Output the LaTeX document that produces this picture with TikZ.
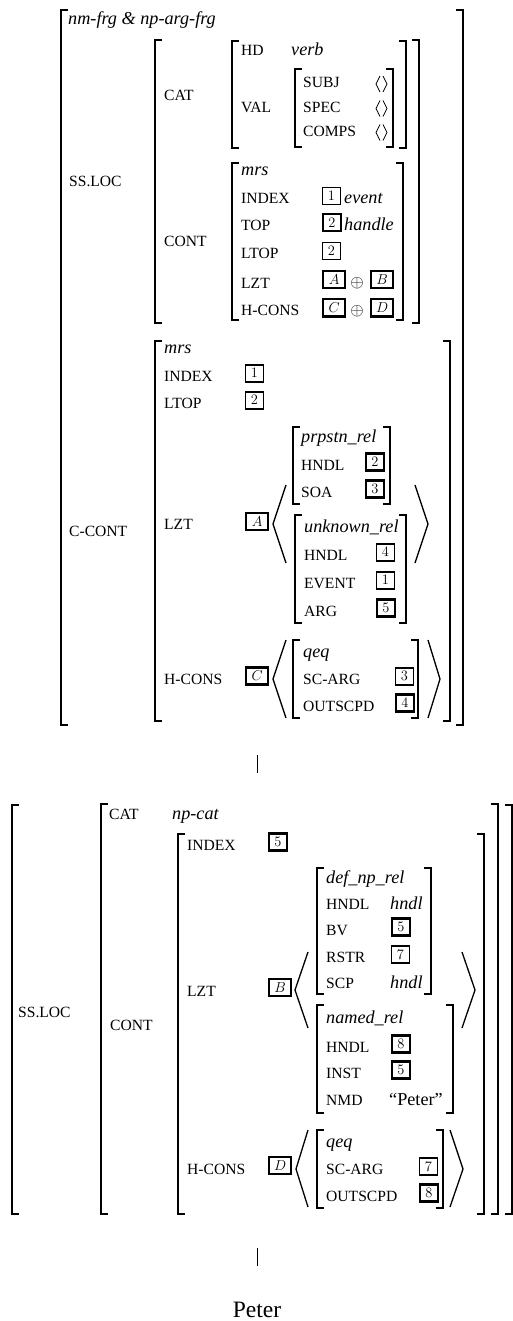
\documentclass[tikz,border=0pt]{standalone}
\usepackage[no-math]{fontspec}
\setmainfont{Liberation Serif}
\newcommand\avmL[3]{\draw[brk] ({#1+7},#2) -- (#1,#2) -- (#1,#3) -- ({#1+7},#3);}
\newcommand\avmR[3]{\draw[brk] ({#1-7},#2) -- (#1,#2) -- (#1,#3) -- ({#1-7},#3);}
\newcommand\emptylist[1]{%
  \draw[sang] (380,{#1-8}) -- (376,#1) -- (380,{#1+8});
  \draw[sang] (383,{#1-8}) -- (387,#1) -- (383,{#1+8});}
\tikzset{
  lab/.style={anchor=base west, inner sep=0, font=\fontsize{15.6}{18}\selectfont},
  val/.style={anchor=base west, inner sep=0, font=\fontsize{18.2}{20}\selectfont\itshape},
  rval/.style={anchor=base west, inner sep=0, font=\fontsize{18.2}{20}\selectfont},
  nbox/.style={draw, line width=1.3, minimum width=17.5, minimum height=17, inner sep=0,
     anchor=south west, font=\fontsize{14.4}{14.4}\selectfont},
  lbox/.style={nbox, minimum width=22, font=\fontsize{14.4}{14.4}\selectfont},
  thk/.style={line width=2.2},
  brk/.style={line width=2},
  ang/.style={line width=1.3},
  sang/.style={line width=0.8},
  tree/.style={line width=0.8},
  opl/.style={inner sep=0, font=\fontsize{17.28}{18}\selectfont}
}
\begin{document}
\begin{tikzpicture}[x=1pt,y=-1pt]
\useasboundingbox (0,0) rectangle (512,1321);
% ================= top AVM =================
\avmL{61}{10}{725} \avmR{463}{10}{725}
\node[val] (tt) at (68,25) {nm-frg \& np-arg-frg};
\node[lab] (ssloc1) at (69,187) {SS.LOC};
\avmL{155}{40}{323} \avmR{419}{40}{323}
% CAT
\node[lab] (cat1) at (164,101) {CAT};
\avmL{232}{41}{148} \avmR{406}{41}{148}
\node[lab] (hd) at (241,56) {HD};
\node[val] (verb) at (291,56) {verb};
\node[lab] (valf) at (241,113) {VAL};
\avmL{295}{69}{147} \avmR{393}{69}{147}
\node[lab] (subj) at (303,88) {SUBJ};
\node[lab] (spec) at (303,113) {SPEC};
\node[lab] (comps) at (303,137) {COMPS};
\emptylist{84} \emptylist{108.5} \emptylist{132.5}
% CONT
\node[lab] (cont1) at (164,247) {CONT};
\avmL{232}{163}{320} \avmR{403}{163}{320}
\node[val] (mrs1) at (241,176) {mrs};
\node[lab] (idx1) at (241,204) {INDEX};
\node[nbox] (b1a) at (322,205) {$1$};
\node[val] (event) at (344,204) {event};
\node[lab] (top1) at (241,231) {TOP};
\node[nbox,thk] (b2a) at (322,232) {$2$};
\node[val] (handle) at (344,231) {handle};
\node[lab] (ltop1) at (241,259) {LTOP};
\node[nbox] (b2b) at (322,260) {$2$};
\node[lab] (lzt1) at (241,288) {LZT};
\node[lbox,thk] (bA1) at (322,289.5) {$A$};
\node[opl] (op1) at (357,283.5) {$\oplus$};
\node[lbox,thk] (bB1) at (370,289.5) {$B$};
\node[lab] (hc1) at (241,316) {H-CONS};
\node[lbox,thk] (bC1) at (322,317.5) {$C$};
\node[opl] (op2) at (357,311.5) {$\oplus$};
\node[lbox,thk] (bD1) at (370,317.5) {$D$};
% C-CONT
\node[lab] (ccont) at (69,536) {C-CONT};
\avmL{155}{341}{721} \avmR{450}{341}{721}
\node[val] (mrs2) at (164,353) {mrs};
\node[lab] (idx2) at (164,381) {INDEX};
\node[nbox] (b1b) at (245,382.5) {$1$};
\node[lab] (ltop2) at (164,408) {LTOP};
\node[nbox] (b2c) at (245,409.5) {$2$};
\node[lab] (lzt2) at (164,529) {LZT};
\node[lbox,thk] (bA2) at (245,531) {$A$};
\draw[ang] (286,485) -- (273,524) -- (286,563);
\draw[ang] (415,485) -- (428,524) -- (415,563);
\avmL{293}{427}{504} \avmR{390}{427}{504}
\node[val] (prp) at (301,442) {prpstn\_rel};
\node[lab] (hndl1) at (301,470) {HNDL};
\node[nbox,thk] (b2d) at (365,471.5) {$2$};
\node[lab] (soa) at (301,497) {SOA};
\node[nbox,thk] (b3a) at (365,498.5) {$3$};
\avmL{295}{515}{623} \avmR{406}{515}{623}
\node[val] (unk) at (304,532) {unknown\_rel};
\node[lab] (hndl2) at (304,560) {HNDL};
\node[nbox] (b4a) at (376,561.5) {$4$};
\node[lab] (evt) at (304,588) {EVENT};
\node[nbox] (b1c) at (376,589.5) {$1$};
\node[lab] (arg) at (304,616) {ARG};
\node[nbox,thk] (b5a) at (376,617.5) {$5$};
\node[lab] (hc2) at (164,684) {H-CONS};
\node[lbox,thk] (bC2) at (245,685.5) {$C$};
\draw[ang] (286,640) -- (273,679) -- (286,718);
\draw[ang] (428,640) -- (440,679) -- (428,718);
\avmL{293}{640}{718} \avmR{418}{640}{718}
\node[val] (qeq1) at (303,657) {qeq};
\node[lab] (sc1) at (303,684) {SC-ARG};
\node[nbox] (b3b) at (395,685.5) {$3$};
\node[lab] (out1) at (303,711) {OUTSCPD};
\node[nbox,thk] (b4b) at (395,712.5) {$4$};
% tree branch
\coordinate (u1) at (257,755);
\coordinate (u2) at (257,773);
\draw[tree] (u1) -- (u2);
% ================= bottom AVM =================
\avmL{12}{805}{1214}
\draw[brk] (505,805) -- (511.8,805) -- (511.8,1214) -- (505,1214);
\node[lab] (ssloc2) at (18,1017) {SS.LOC};
\avmL{101}{804}{1214} \avmR{498}{804}{1214}
\node[lab] (cat2) at (109,819) {CAT};
\node[val] (npcat) at (172,819) {np-cat};
\node[lab] (cont2) at (110,1030) {CONT};
\avmL{178}{834}{1214} \avmR{484}{834}{1214}
\node[lab] (idx3) at (187,850) {INDEX};
\node[nbox,thk] (b5b) at (268,851.5) {$5$};
\avmL{317}{868}{994} \avmR{431}{868}{994}
\node[val] (defnp) at (326,883) {def\_np\_rel};
\node[lab] (hndl3) at (326,909) {HNDL};
\node[val] (hn1) at (390,909) {hndl};
\node[lab] (bv) at (326,935) {BV};
\node[nbox,thk] (b5c) at (391,936.5) {$5$};
\node[lab] (rstr) at (326,962) {RSTR};
\node[nbox] (b7a) at (391,963.5) {$7$};
\node[lab] (scp) at (326,988) {SCP};
\node[val] (hn2) at (390,988) {hndl};
\node[lab] (lzt3) at (187,996) {LZT};
\node[lbox,thk] (bB2) at (268,997) {$B$};
\draw[ang] (308,952) -- (295,990) -- (308,1028);
\draw[ang] (462,952) -- (475,990) -- (462,1028);
\avmL{317}{1005}{1113} \avmR{453}{1005}{1113}
\node[val] (named) at (326,1023) {named\_rel};
\node[lab] (hndl4) at (326,1052) {HNDL};
\node[nbox,thk] (b8a) at (391,1053.5) {$8$};
\node[lab] (inst) at (326,1078) {INST};
\node[nbox,thk] (b5d) at (391,1079.5) {$5$};
\node[lab] (nmd) at (326,1105) {NMD};
\node[rval] (pq) at (389,1105) {``Peter''};
\node[lab] (hc3) at (187,1174) {H-CONS};
\node[lbox,thk] (bD2) at (268,1175) {$D$};
\draw[ang] (308,1130) -- (296,1169) -- (308,1207);
\draw[ang] (450,1130) -- (463,1169) -- (450,1207);
\avmL{317}{1130}{1208} \avmR{443}{1130}{1208}
\node[val] (qeq2) at (326,1147) {qeq};
\node[lab] (sc2) at (326,1174) {SC-ARG};
\node[nbox] (b7b) at (419,1175.5) {$7$};
\node[lab] (out2) at (326,1201) {OUTSCPD};
\node[nbox,thk] (b8b) at (419,1202.5) {$8$};
% tree branch and word
\coordinate (u3) at (257,1248);
\coordinate (u4) at (257,1266);
\draw[tree] (u3) -- (u4);
\node[anchor=base, inner sep=0, font=\fontsize{23.5}{26}\selectfont] (peter) at (257,1317) {Peter};
\end{tikzpicture}
\end{document}
